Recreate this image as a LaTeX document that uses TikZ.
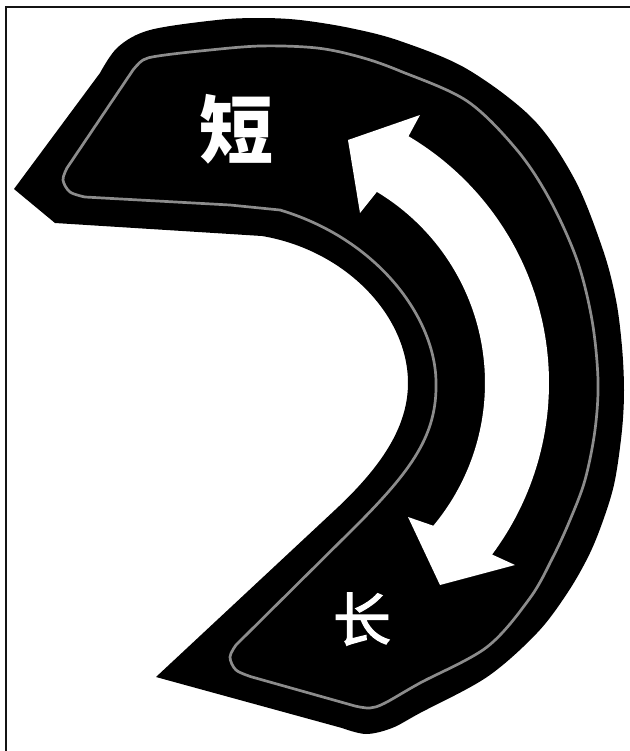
\documentclass[tikz,border=0pt]{standalone}
\usepackage{fontspec}
\newfontfamily\cjk{Noto Sans CJK SC}
\newfontfamily\cjkmed[FakeBold=2.2]{Noto Sans CJK SC}
\definecolor{rimgray}{RGB}{140,140,140}
\definecolor{framecol}{RGB}{20,20,20}
\tikzset{
  frameline/.style={draw=framecol, line width=1pt},
  bandfill/.style={fill=black},
  rimline/.style={draw=rimgray, line width=1.35pt, line join=round},
  arrowfill/.style={fill=white},
  biglabel/.style={text=white, inner sep=0pt},
}
\begin{document}
\begin{tikzpicture}[x=0.5pt,y=-0.5pt]
\useasboundingbox (0,0) rectangle (629,751);
\fill[white] (0,0) rectangle (629,751);
% frame (top and left edges visible)
\draw[frameline] (6,752) -- (6,7) -- (630,7);
% black band
\path[bandfill] (14,189) -- (100,73)
  -- plot[smooth,tension=0.55] coordinates {(100,73) (118,47) (150,30) (217,20) (260,18) (300,20) (350,28) (400,41) (467,69) (533,119) (575,180) (603,250) (616,300) (622,347) (624,390) (622,430) (615,480) (605,515) (590,553) (568,592) (537,633) (487,677) (420,713) (392,728) (366,734) (342,728)}
  -- (156,677) -- (335,510)
  .. controls (380,468) and (408,428) .. (408,383)
  .. controls (408,315) and (345,250) .. (262,236)
  -- (55,223) -- cycle;
% gray rim line
\draw[rimline] (67,168) -- (133,70)
  -- plot[smooth,tension=0.55] coordinates {(133,70) (143,60) (158,56) (200,51) (260,46) (317,48) (360,57) (400,71) (467,101) (517,150) (550,200) (577,260) (592,320) (598,380) (595,430) (585,480) (570,520) (553,557) (530,598) (487,647) (420,683) (385,703) (370,708) (355,706)}
  -- (252,677)
  -- plot[smooth,tension=0.55] coordinates {(252,677) (236,670) (230,657) (236,645)}
  -- (355,527)
  .. controls (412,470) and (437,435) .. (436,383)
  .. controls (436,320) and (380,240) .. (280,210)
  -- (230,205) -- (85,197)
  -- plot[smooth,tension=0.55] coordinates {(85,197) (70,192) (63,180) (67,168)}
  -- cycle;
% white double-headed arrow
\path[arrowfill]
  plot[domain=-59.3:36.7,samples=80] ({262+287*cos(\x)},{383+287*sin(\x)})
  -- (515,565) -- (440,585) -- (408,517)
  -- plot[domain=39.8:-59,samples=80] ({262+223*cos(\x)},{383+223*sin(\x)})
  -- (360,213) -- (348,140) -- (420,115) -- cycle;
% labels
\node[biglabel, font=\cjk\bfseries\fontsize{37}{37}\selectfont] (short) at (236,129) {短};
\node[biglabel, font=\cjkmed\fontsize{29}{29}\selectfont] (long) at (362,619) {长};
\end{tikzpicture}
\end{document}
